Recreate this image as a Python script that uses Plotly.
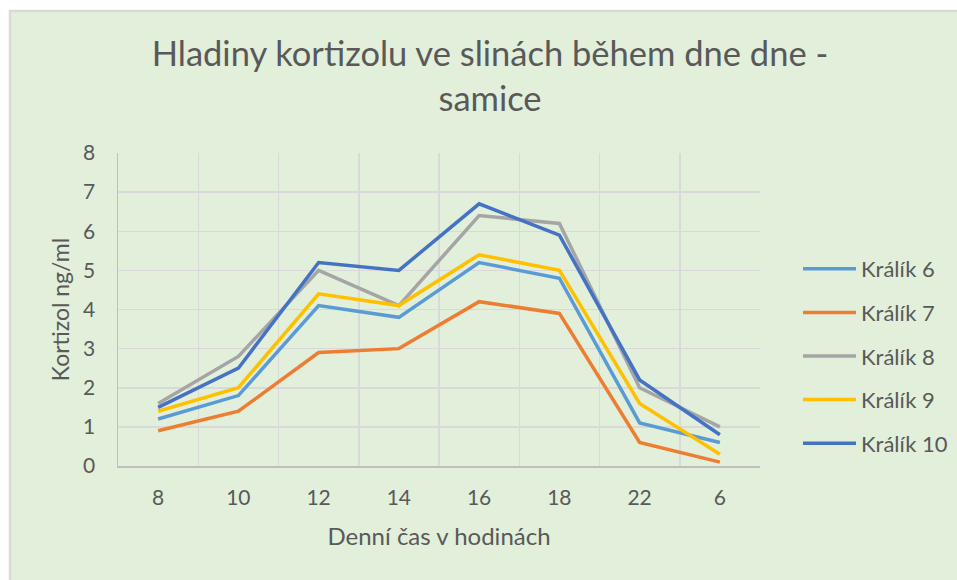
import plotly.graph_objects as go

categories = ["8", "10", "12", "14", "16", "18", "22", "6"]
series_names = ["Králík 6", "Králík 7", "Králík 8", "Králík 9", "Králík 10"]
kralik_6 = [1.2, 1.8, 4.1, 3.8, 5.2, 4.8, 1.1, 0.6]
kralik_7 = [0.9, 1.4, 2.9, 3.0, 4.2, 3.9, 0.6, 0.1]
kralik_8 = [1.6, 2.8, 5.0, 4.1, 6.4, 6.2, 2.0, 1.0]
kralik_9 = [1.4, 2.0, 4.4, 4.1, 5.4, 5.0, 1.6, 0.3]
kralik_10 = [1.5, 2.5, 5.2, 5.0, 6.7, 5.9, 2.2, 0.8]
y_ticks = [0, 1, 2, 3, 4, 5, 6, 7, 8]

colors = ["#5B9BD5", "#ED7D31", "#A5A5A5", "#FFC000", "#4472C4"]
values = [kralik_6, kralik_7, kralik_8, kralik_9, kralik_10]

W, H = 957, 580
L, R, T, B = 118, 197, 153, 114
FONT = "Lato"
TXT = "#595959"
BG = "#E2EFDA"

fig = go.Figure()
for name, vals, col in zip(series_names, values, colors):
    fig.add_trace(go.Scatter(
        x=categories, y=vals, name=name, mode="lines",
        line=dict(color=col, width=3.5),
        legendgroup=name,
    ))

pw = W - L - R
ph = H - T - B
def px_x(p):
    return (p - L) / pw
def px_y(p):
    return (H - B - p) / ph

fig.add_shape(type="rect", xref="paper", yref="paper",
              x0=px_x(10), x1=px_x(W + 10), y0=px_y(H + 10), y1=px_y(11),
              fillcolor=BG, line=dict(color="#D9D9D9", width=2.5), layer="below")

fig.update_layout(
    width=W, height=H,
    autosize=False,
    margin=dict(l=L, r=R, t=T, b=B, autoexpand=False),
    paper_bgcolor="white",
    plot_bgcolor=BG,
    hovermode=False,
    font=dict(family=FONT, color=TXT, size=21),
    title=dict(
        text="Hladiny kortizolu ve slinách během dne dne -<br>samice",
        x=490 / W, xref="container", xanchor="center",
        y=1 - 66 / H, yref="container", yanchor="top",
        font=dict(family=FONT, size=34.5, color=TXT),
    ),
    showlegend=True,
    legend=dict(
        xref="container", yref="container",
        x=798 / W, xanchor="left",
        y=1 - 356 / H, yanchor="middle",
        bgcolor="rgba(0,0,0,0)",
        font=dict(family=FONT, size=22, color=TXT),
        itemwidth=53,
        tracegroupgap=12,
    ),
    xaxis=dict(
        type="category",
        tickson="boundaries",
        range=[-0.5, 7.5],
        showgrid=True, gridcolor="#D9D9D9", gridwidth=1.5,
        showline=True, linecolor="#BFBFBF", linewidth=1.5,
        ticks="", ticklabelstandoff=12,
        tickfont=dict(family=FONT, size=21, color=TXT),
        title=dict(text="Denní čas v hodinách", standoff=20,
                   font=dict(family=FONT, size=24, color=TXT)),
        zeroline=False,
        fixedrange=True,
    ),
    yaxis=dict(
        range=[0, 8],
        tickvals=y_ticks,
        showgrid=True, gridcolor="#D9D9D9", gridwidth=1.5,
        showline=True, linecolor="#BFBFBF", linewidth=1.5,
        ticks="outside", ticklen=17, tickcolor="rgba(0,0,0,0)",
        tickfont=dict(family=FONT, size=21, color=TXT),
        title=dict(text="Kortizol ng/ml", standoff=7,
                   font=dict(family=FONT, size=23, color=TXT)),
        zeroline=False,
        fixedrange=True,
    ),
)

fig.write_html(
    "out.html",
    config={"responsive": False, "displayModeBar": False, "staticPlot": True},
    post_script="document.body.style.margin='0px';document.body.style.overflow='hidden';",
)
